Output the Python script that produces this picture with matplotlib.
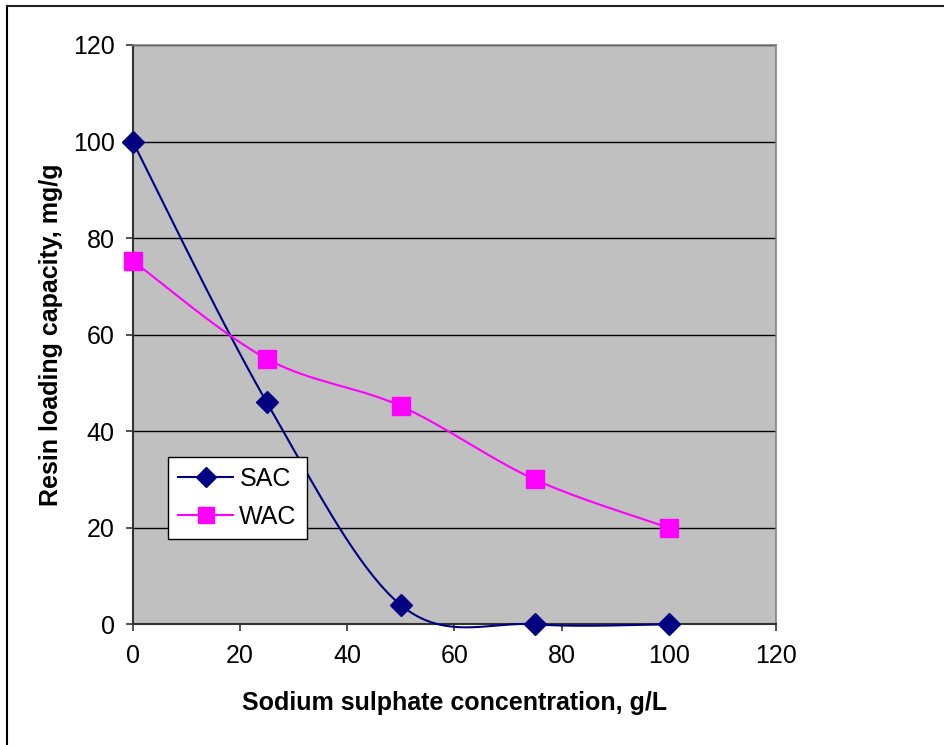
import numpy as np
import matplotlib
matplotlib.use("Agg")
import matplotlib.pyplot as plt
from matplotlib.lines import Line2D

plt.rcParams['font.family'] = ['Liberation Sans', 'DejaVu Sans']

# Data
conc = [0, 25, 50, 75, 100]
sac = [100, 46, 4, 0, 0]
wac = [75.3, 55, 45.2, 30, 20]
xticks = [0, 20, 40, 60, 80, 100, 120]
yticks = [0, 20, 40, 60, 80, 100, 120]


def smooth(xs, ys, n=40):
    """Excel-like smoothed line (Catmull-Rom via cubic Bezier)."""
    P = np.column_stack([xs, ys]).astype(float)
    P = np.vstack([P[0], P, P[-1]])
    out = []
    for i in range(1, len(P) - 2):
        p0, p1, p2, p3 = P[i - 1], P[i], P[i + 1], P[i + 2]
        c1 = p1 + (p2 - p0) / 6.0
        c2 = p2 - (p3 - p1) / 6.0
        t = np.linspace(0, 1, n)[:, None]
        seg = ((1 - t) ** 3) * p1 + 3 * ((1 - t) ** 2) * t * c1 + 3 * (1 - t) * t ** 2 * c2 + t ** 3 * p2
        out.append(seg if i == 1 else seg[1:])
    pts = np.vstack(out)
    return pts[:, 0], pts[:, 1]


fig = plt.figure(figsize=(9.45, 7.45), dpi=100)
ax = fig.add_axes([0.1404, 0.162, 0.8212 - 0.1404, 0.9396 - 0.162])
ax.set_facecolor('#C0C0C0')

navy = '#000080'
magenta = '#FF00FF'

sx, sy = smooth(conc, sac)
wx, wy = smooth(conc, wac)
ax.plot(sx, sy, color=navy, lw=1.5, zorder=3, clip_on=False)
ax.plot(conc, sac, linestyle='none', marker='D', markersize=11, color=navy, zorder=4, clip_on=False)
ax.plot(wx, wy, color=magenta, lw=1.5, zorder=3, clip_on=False)
ax.plot(conc, wac, linestyle='none', marker='s', markersize=13, color=magenta, zorder=4, clip_on=False)

ax.set_xlim(0, 120)
ax.set_ylim(0, 120)
ax.set_xticks(xticks)
ax.set_yticks(yticks)
ax.yaxis.grid(True, color='black', lw=1.0)
ax.set_axisbelow(True)
ax.tick_params(axis='both', direction='out', length=5, width=1.2, color='#333333', labelsize=18)
ax.tick_params(axis='y', pad=8)
ax.tick_params(axis='x', pad=9)

for side in ['top', 'right']:
    ax.spines[side].set_color('#808080')
    ax.spines[side].set_linewidth(1.2)
for side in ['left', 'bottom']:
    ax.spines[side].set_color('#333333')
    ax.spines[side].set_linewidth(1.5)

ax.set_xlabel('Sodium sulphate concentration, g/L', fontsize=18, fontweight='bold')
ax.set_ylabel('Resin loading capacity, mg/g', fontsize=18, fontweight='bold')
ax.xaxis.set_label_coords(0.501, -0.136)
ax.xaxis.label.set_verticalalignment('center')
ax.yaxis.set_label_coords(-0.127, 0.5)
ax.yaxis.label.set_verticalalignment('center')

handles = [
    Line2D([], [], color=navy, lw=1.5, marker='D', markersize=10),
    Line2D([], [], color=magenta, lw=1.5, marker='s', markersize=11),
]
leg = ax.legend(handles, ['SAC', 'WAC'], loc='upper left', bbox_to_anchor=(0.055, 0.289),
                borderaxespad=0, fontsize=18, fancybox=False, framealpha=1,
                edgecolor='black', handlelength=2.2, labelspacing=0.55, borderpad=0.4,
                handletextpad=0.25)
leg.get_frame().set_linewidth(1.0)

# Outer chart border (left and top visible)
fig.add_artist(Line2D([7.5 / 945, 7.5 / 945], [0, 1 - 5.5 / 745], color='black', lw=1.5,
                      transform=fig.transFigure))
fig.add_artist(Line2D([7.5 / 945, 1], [1 - 5.5 / 745, 1 - 5.5 / 745], color='#222222', lw=1.5,
                      transform=fig.transFigure))

fig.savefig('out.png', dpi=100)
